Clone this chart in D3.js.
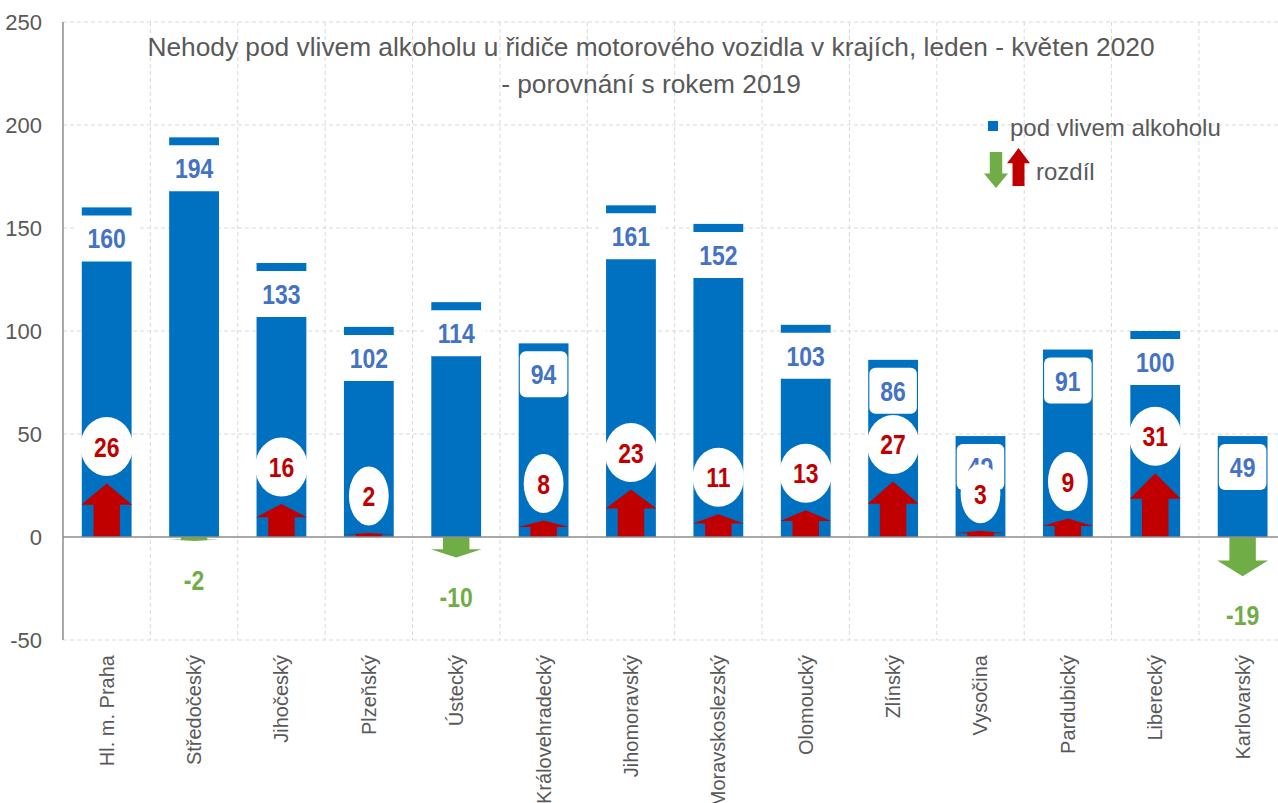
<!DOCTYPE html>
<html>
<head>
<meta charset="utf-8">
<script src="https://cdn.jsdelivr.net/npm/d3@7"></script>
<style>
  body { margin: 0; background: white; }
  svg { display: block; }
</style>
</head>
<body>
<svg id="chart" width="1278" height="803"></svg>
<script>

var regions = ['Hl. m. Praha', 'Středočeský', 'Jihočeský', 'Plzeňský', 'Ústecký', 'Královehradecký',
               'Jihomoravský', 'Moravskoslezský', 'Olomoucký', 'Zlínský', 'Vysočina', 'Pardubický',
               'Liberecký', 'Karlovarský'];
var alcohol = [160, 194, 133, 102, 114, 94, 161, 152, 103, 86, 49, 91, 100, 49];
var change = [26, -2, 16, 2, -10, 8, 23, 11, 13, 27, 3, 9, 31, -19];
var y_ticks = [-50, 0, 50, 100, 150, 200, 250];
var title_lines = ['Nehody pod vlivem alkoholu u řidiče motorového vozidla v krajích, leden - květen 2020',
                   '- porovnání s rokem 2019'];
var legend_labels = ['pod vlivem alkoholu', 'rozdíl'];

var font = '"Liberation Sans", Arial, sans-serif';
// bold data labels look like Arial Narrow: squeeze Liberation Sans horizontally
var squeeze = 0.82;
var grey = '#595959';
var blue = '#0070C0';
var red = '#C00000';
var green = '#70AD47';
var label_blue = '#4472C4';

var svg = d3.select('#chart');

var x = d3.scaleBand().domain(regions).range([63, 63 + 14 * 87.38]).paddingInner(0.43).paddingOuter(0.215);
var y = d3.scaleLinear().domain([-50, 250]).range([640, 22]);

var step = x.step();
var bw = x.bandwidth();
var cx = d => x(d) + bw / 2;

// grid
var grid = svg.append('g');
grid.selectAll('line.h')
    .data(y_ticks.filter(t => t != 0))
    .enter()
    .append('line')
    .attr('x1', 63).attr('x2', 1278)
    .attr('y1', d => y(d)).attr('y2', d => y(d))
    .attr('stroke', '#D9D9D9').attr('stroke-width', 1).attr('stroke-dasharray', '4,3');

grid.selectAll('line.v')
    .data(regions)
    .enter()
    .append('line')
    .attr('x1', (d, i) => 63 + (i + 1) * step).attr('x2', (d, i) => 63 + (i + 1) * step)
    .attr('y1', y(250)).attr('y2', y(-50))
    .attr('stroke', '#D9D9D9').attr('stroke-width', 1).attr('stroke-dasharray', '4,3');

// y axis labels
svg.append('g')
   .selectAll('text')
   .data(y_ticks)
   .enter()
   .append('text')
   .attr('x', 42)
   .attr('y', d => y(d))
   .attr('dy', '0.35em')
   .attr('text-anchor', 'end')
   .attr('font-family', font)
   .attr('font-size', 22)
   .attr('fill', grey)
   .text(d => d);

// bars
svg.append('g')
   .selectAll('rect')
   .data(regions)
   .enter()
   .append('rect')
   .attr('x', d => x(d))
   .attr('y', (d, i) => y(alcohol[i]))
   .attr('width', bw)
   .attr('height', (d, i) => y(0) - y(alcohol[i]))
   .attr('fill', blue);

// value labels (white boxes inside the top of each bar)
var vlabels = svg.append('g')
   .selectAll('g')
   .data(regions)
   .enter()
   .append('g')
   .attr('transform', (d, i) => 'translate(' + cx(d) + ',' + (y(alcohol[i]) + 8 + 23) + ')');

vlabels.append('rect').attr('class', 'box');
vlabels.append('text')
   .attr('transform', 'scale(' + squeeze + ',1)')
   .attr('text-anchor', 'middle')
   .attr('dy', '0.36em')
   .attr('font-family', font)
   .attr('font-weight', 'bold')
   .attr('font-size', 28)
   .attr('fill', label_blue)
   .text((d, i) => alcohol[i]);

vlabels.each(function() {
  var g = d3.select(this);
  var w = g.select('text').node().getComputedTextLength() * squeeze + 22;
  g.select('rect')
   .attr('x', -w / 2).attr('y', -23)
   .attr('width', w).attr('height', 46)
   .attr('rx', 6)
   .attr('fill', 'white');
});

// arrow shapes
function arrow_path(xc, half_w, y0, y1)
{
  var h = y1 - y0;
  var head = 0.4 * h;
  var sw = half_w * 0.52;
  var yb = y1 - head;
  return 'M' + (xc - sw) + ',' + y0 + 'L' + (xc - sw) + ',' + yb + 'L' + (xc - half_w) + ',' + yb +
         'L' + xc + ',' + y1 + 'L' + (xc + half_w) + ',' + yb + 'L' + (xc + sw) + ',' + yb +
         'L' + (xc + sw) + ',' + y0 + 'Z';
}

svg.append('g')
   .selectAll('path')
   .data(regions)
   .enter()
   .append('path')
   .attr('d', (d, i) => arrow_path(cx(d), bw / 2 + 0.5, y(0), y(change[i])))
   .attr('fill', (d, i) => change[i] >= 0 ? red : green);

// change labels
var clabels = svg.append('g')
   .selectAll('g')
   .data(regions)
   .enter()
   .append('g')
   .attr('transform', (d, i) => 'translate(' + cx(d) + ',' +
         (change[i] >= 0 ? y(change[i]) - 37 : y(change[i]) + 39) + ')');

clabels.filter((d, i) => change[i] >= 0).append('ellipse').attr('fill', 'white');
clabels.append('text')
   .attr('transform', 'scale(' + squeeze + ',1)')
   .attr('text-anchor', 'middle')
   .attr('dy', '0.36em')
   .attr('font-family', font)
   .attr('font-weight', 'bold')
   .attr('font-size', 28)
   .attr('fill', (d, i) => change[i] >= 0 ? red : green)
   .text((d, i) => change[i]);

clabels.each(function() {
  var g = d3.select(this);
  var tw = g.select('text').node().getComputedTextLength() * squeeze;
  g.select('ellipse').attr('rx', (tw + 27) / 2).attr('ry', 29.5);
});

// axes lines
svg.append('line')
   .attr('x1', 63).attr('x2', 1278).attr('y1', y(0)).attr('y2', y(0))
   .attr('stroke', '#8C8C8C').attr('stroke-width', 1.5);
svg.append('line')
   .attr('x1', 63).attr('x2', 63).attr('y1', y(250)).attr('y2', y(-50))
   .attr('stroke', '#8C8C8C').attr('stroke-width', 1.5);

// category labels
svg.append('g')
   .selectAll('text')
   .data(regions)
   .enter()
   .append('text')
   .attr('transform', d => 'translate(' + cx(d) + ',655) rotate(-90)')
   .attr('dy', '0.35em')
   .attr('text-anchor', 'end')
   .attr('font-family', font)
   .attr('font-size', 20)
   .attr('fill', grey)
   .text(d => d);

// title
svg.append('g')
   .selectAll('text')
   .data(title_lines)
   .enter()
   .append('text')
   .attr('x', 651)
   .attr('y', (d, i) => 47 + i * 37)
   .attr('dy', '0.35em')
   .attr('text-anchor', 'middle')
   .attr('font-family', font)
   .attr('font-size', 26.3)
   .attr('fill', grey)
   .text(d => d);

// legend
var legend = svg.append('g');
legend.append('rect')
      .attr('x', 988).attr('y', 121).attr('width', 10).attr('height', 10)
      .attr('fill', blue);
legend.append('text')
      .attr('x', 1010).attr('y', 128)
      .attr('dy', '0.35em')
      .attr('font-family', font).attr('font-size', 24).attr('fill', grey)
      .text(legend_labels[0]);
legend.append('path')
      .attr('d', arrow_path(996, 12, 152, 188))
      .attr('fill', green);
legend.append('path')
      .attr('d', arrow_path(1018.5, 11.5, 186, 148))
      .attr('fill', red);
legend.append('text')
      .attr('x', 1036).attr('y', 172)
      .attr('dy', '0.35em')
      .attr('font-family', font).attr('font-size', 24).attr('fill', grey)
      .text(legend_labels[1]);

</script>
</body>
</html>
